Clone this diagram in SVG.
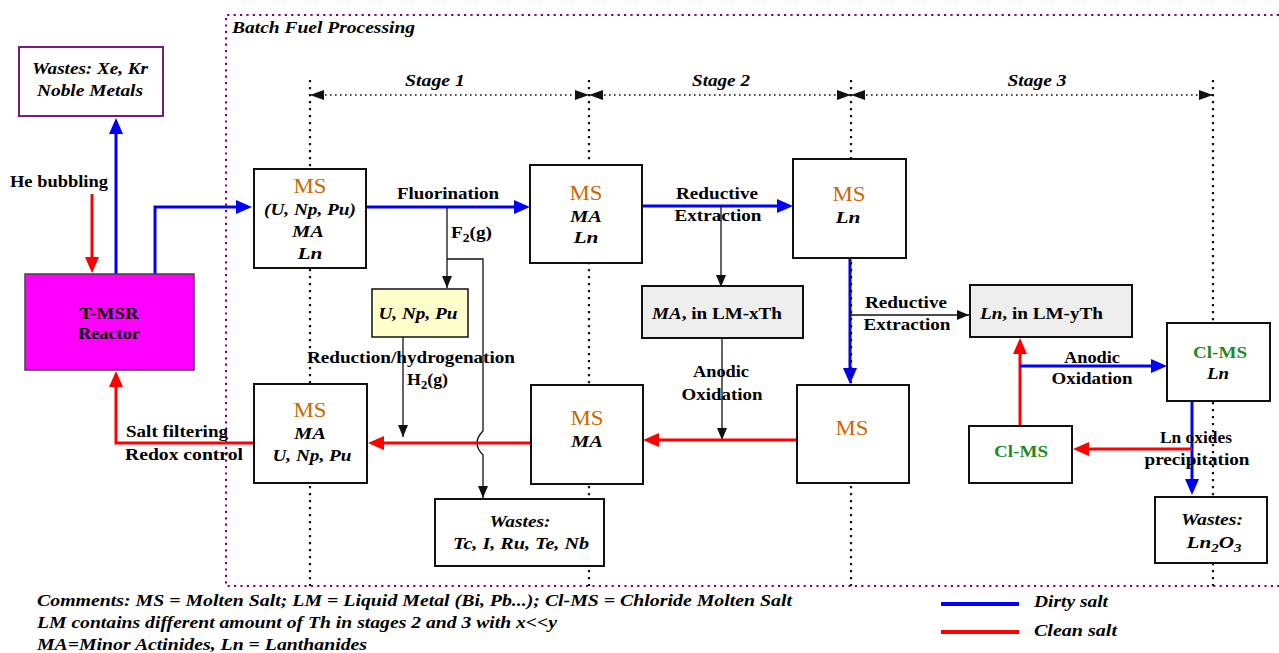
<svg xmlns="http://www.w3.org/2000/svg" width="1279" height="653" viewBox="0 0 1279 653" font-family="'Liberation Serif', 'DejaVu Serif', serif">
<style>
text{font-family:'Liberation Serif','DejaVu Serif',serif}
.t{font-weight:bold;font-size:17px;fill:#000}
.i{font-style:italic}
.m{text-anchor:middle}
.ms{font-weight:normal;fill:#cc6600;font-size:20px}
.cl{fill:#1f8a1f}
.box{fill:#fff;stroke:#111;stroke-width:2}
.gray{fill:#eeeeee;stroke:#111;stroke-width:2}
.blue{fill:none;stroke:#0000ff;stroke-width:3}
.red{fill:none;stroke:#ff0000;stroke-width:3}
.blk{fill:none;stroke:#111;stroke-width:1.3}
.stg{fill:none;stroke:#111;stroke-width:2.2;stroke-dasharray:2.2 4.8}
.sh{fill:none;stroke:#111;stroke-width:1.5;stroke-dasharray:1.6 3.4}
</style>
<defs>
<marker id="ab" markerUnits="userSpaceOnUse" markerWidth="16" markerHeight="14" viewBox="0 0 16 14" refX="12" refY="7" orient="auto"><path d="M0,0 L16,7 L0,14 z" fill="#0000ff"/></marker>
<marker id="ar" markerUnits="userSpaceOnUse" markerWidth="16" markerHeight="14" viewBox="0 0 16 14" refX="12" refY="7" orient="auto"><path d="M0,0 L16,7 L0,14 z" fill="#ff0000"/></marker>
<marker id="ak" markerUnits="userSpaceOnUse" markerWidth="12" markerHeight="10" viewBox="0 0 12 10" refX="12" refY="5" orient="auto"><path d="M0,0 L12,5 L0,10 z" fill="#111"/></marker>
<marker id="as" markerUnits="userSpaceOnUse" markerWidth="14" markerHeight="10" viewBox="0 0 14 10" refX="14" refY="5" orient="auto-start-reverse"><path d="M0,0 L14,5 L0,10 z" fill="#111"/></marker>
</defs>
<rect width="1279" height="653" fill="#fff"/>

<!-- frame -->
<path d="M1279,15 H226 V586 H1279" fill="none" stroke="#800080" stroke-width="2" stroke-dasharray="2.2 4.2"/>
<text class="t i" x="232" y="33" textLength="183" lengthAdjust="spacingAndGlyphs">Batch Fuel Processing</text>

<!-- stage markers -->
<g id="stages">
<line class="stg" x1="310" y1="80" x2="310" y2="586"/>
<line class="stg" x1="589" y1="80" x2="589" y2="586"/>
<line class="stg" x1="851" y1="80" x2="851" y2="586"/>
<line class="stg" x1="1213" y1="80" x2="1213" y2="586"/>
<line class="sh" x1="310" y1="95" x2="589" y2="95" marker-start="url(#as)" marker-end="url(#as)"/>
<line class="sh" x1="589" y1="95" x2="851" y2="95" marker-start="url(#as)" marker-end="url(#as)"/>
<line class="sh" x1="851" y1="95" x2="1213" y2="95" marker-start="url(#as)" marker-end="url(#as)"/>
<text class="t i m" x="435" y="86" textLength="60" lengthAdjust="spacingAndGlyphs">Stage 1</text>
<text class="t i m" x="721" y="86" textLength="58" lengthAdjust="spacingAndGlyphs">Stage 2</text>
<text class="t i m" x="1037" y="86" textLength="59" lengthAdjust="spacingAndGlyphs">Stage 3</text>
</g>

<!-- connectors -->
<g id="connectors">
<path class="red" d="M92,194 V269" marker-end="url(#ar)"/>
<path class="blue" d="M116,274 V122" marker-end="url(#ab)"/>
<path class="blue" d="M155,274 V207 H248" marker-end="url(#ab)"/>
<path class="blue" d="M366,207 H526" marker-end="url(#ab)"/>
<path class="blk" d="M447,207 V288" marker-end="url(#ak)"/>
<path class="blk" d="M447,259 H483 V431 Q471,443 483,455 V498" marker-end="url(#ak)"/>
<path class="blk" d="M403,337 V437" marker-end="url(#ak)"/>
<path class="blue" d="M642,206 H789" marker-end="url(#ab)"/>
<path class="blk" d="M721,206 V287" marker-end="url(#ak)"/>
<path class="blk" d="M722,338 V440" marker-end="url(#ak)"/>
<path class="blue" d="M850,258 V380" marker-end="url(#ab)"/>
<path class="stg" d="M851,262 V378"/>
<path class="blk" d="M850,315 H969" marker-end="url(#ak)"/>
<path class="red" d="M797,440 H647" marker-end="url(#ar)"/>
<path class="red" d="M531,443 H372" marker-end="url(#ar)"/>
<path class="red" d="M254,443 H116 V375" marker-end="url(#ar)"/>
<path class="red" d="M1020,426 V342" marker-end="url(#ar)"/>
<path class="blue" d="M1020,366 H1163" marker-end="url(#ab)"/>
<path class="blue" d="M1192,401 V491" marker-end="url(#ab)"/>
<path class="red" d="M1192,449 H1077" marker-end="url(#ar)"/>
</g>

<!-- labels -->
<g id="labels">
<text class="t" x="10" y="187" textLength="98" lengthAdjust="spacingAndGlyphs">He bubbling</text>
<text class="t m" x="448" y="199" textLength="102" lengthAdjust="spacingAndGlyphs">Fluorination</text>
<text class="t" x="451" y="238" textLength="41" lengthAdjust="spacingAndGlyphs">F<tspan font-size="12" dy="4">2</tspan><tspan dy="-4">(g)</tspan></text>
<text class="t m" x="411" y="363" textLength="208" lengthAdjust="spacingAndGlyphs">Reduction/hydrogenation</text>
<text class="t" x="407" y="385" textLength="41" lengthAdjust="spacingAndGlyphs">H<tspan font-size="12" dy="4">2</tspan><tspan dy="-4">(g)</tspan></text>
<text class="t m" x="717" y="199" textLength="82" lengthAdjust="spacingAndGlyphs">Reductive</text>
<text class="t m" x="718" y="221" textLength="87" lengthAdjust="spacingAndGlyphs">Extraction</text>
<text class="t m" x="721" y="377" textLength="56" lengthAdjust="spacingAndGlyphs">Anodic</text>
<text class="t m" x="722" y="400" textLength="81" lengthAdjust="spacingAndGlyphs">Oxidation</text>
<text class="t m" x="906" y="308" textLength="82" lengthAdjust="spacingAndGlyphs">Reductive</text>
<text class="t m" x="907" y="330" textLength="87" lengthAdjust="spacingAndGlyphs">Extraction</text>
<text class="t m" x="1092" y="363" textLength="56" lengthAdjust="spacingAndGlyphs">Anodic</text>
<text class="t m" x="1092" y="384" textLength="81" lengthAdjust="spacingAndGlyphs">Oxidation</text>
<text class="t m" x="1196" y="443" textLength="72" lengthAdjust="spacingAndGlyphs">Ln oxides</text>
<text class="t m" x="1197" y="465" textLength="105" lengthAdjust="spacingAndGlyphs">precipitation</text>
<text class="t" x="126" y="437" textLength="102" lengthAdjust="spacingAndGlyphs">Salt filtering</text>
<text class="t" x="125" y="460" textLength="118" lengthAdjust="spacingAndGlyphs" font-weight="normal">Redox control</text>
</g>

<!-- nodes -->
<g id="wastes-gas">
<rect x="19" y="47" width="144" height="69" fill="#fff" stroke="#7a1a7a" stroke-width="2"/>
<text class="t i m" x="90" y="74" textLength="116" lengthAdjust="spacingAndGlyphs">Wastes: Xe, Kr</text>
<text class="t i m" x="90" y="96" textLength="106" lengthAdjust="spacingAndGlyphs">Noble Metals</text>
</g>
<g id="reactor">
<rect x="25" y="274" width="169" height="96" fill="#ff00ff" stroke="#444" stroke-width="1.5"/>
<text class="t m" x="109" y="319" textLength="59" lengthAdjust="spacingAndGlyphs">T-MSR</text>
<text class="t m" x="109" y="339" textLength="62" lengthAdjust="spacingAndGlyphs">Reactor</text>
</g>
<g id="ms-feed">
<rect class="box" x="254" y="169" width="112" height="99"/>
<text class="t ms m" x="310" y="193" textLength="33" lengthAdjust="spacingAndGlyphs">MS</text>
<text class="t i m" x="310" y="215" textLength="92" lengthAdjust="spacingAndGlyphs">(U, Np, Pu)</text>
<text class="t i m" x="308" y="237" textLength="32" lengthAdjust="spacingAndGlyphs">MA</text>
<text class="t i m" x="310" y="259" textLength="25" lengthAdjust="spacingAndGlyphs">Ln</text>
</g>
<g id="u-np-pu">
<rect x="372" y="289" width="96" height="48" fill="#ffffcc" stroke="#111" stroke-width="1.5"/>
<text class="t i m" x="418" y="319" textLength="79" lengthAdjust="spacingAndGlyphs">U, Np, Pu</text>
</g>
<g id="ms-ma-ln">
<rect class="box" x="530" y="165" width="112" height="98"/>
<text class="t ms m" x="586" y="200" textLength="33" lengthAdjust="spacingAndGlyphs">MS</text>
<text class="t i m" x="586" y="222" textLength="32" lengthAdjust="spacingAndGlyphs">MA</text>
<text class="t i m" x="586" y="243" textLength="25" lengthAdjust="spacingAndGlyphs">Ln</text>
</g>
<g id="ma-lm">
<rect class="gray" x="642" y="286" width="161" height="52"/>
<text class="t m" x="717" y="319" textLength="130" lengthAdjust="spacingAndGlyphs"><tspan font-style="italic">MA</tspan>, in LM-xTh</text>
</g>
<g id="ms-ln">
<rect class="box" x="793" y="159" width="113" height="99"/>
<text class="t ms m" x="849" y="201" textLength="33" lengthAdjust="spacingAndGlyphs">MS</text>
<text class="t i m" x="848" y="223" textLength="25" lengthAdjust="spacingAndGlyphs">Ln</text>
</g>
<g id="ln-lm">
<rect class="gray" x="970" y="285" width="162" height="52"/>
<text class="t" x="980" y="319" textLength="123" lengthAdjust="spacingAndGlyphs"><tspan font-style="italic">Ln</tspan>, in LM-yTh</text>
</g>
<g id="cl-ms-ln">
<rect class="box" x="1167" y="323" width="103" height="78"/>
<text class="t cl m" x="1220" y="358" textLength="54" lengthAdjust="spacingAndGlyphs">Cl-MS</text>
<text class="t i m" x="1218" y="379" textLength="22" lengthAdjust="spacingAndGlyphs">Ln</text>
</g>
<g id="ms-clean">
<rect class="box" x="797" y="385" width="112" height="98"/>
<text class="t ms m" x="852" y="435" textLength="33" lengthAdjust="spacingAndGlyphs">MS</text>
</g>
<g id="ms-ma">
<rect class="box" x="531" y="385" width="112" height="99"/>
<text class="t ms m" x="587" y="425" textLength="33" lengthAdjust="spacingAndGlyphs">MS</text>
<text class="t i m" x="587" y="447" textLength="32" lengthAdjust="spacingAndGlyphs">MA</text>
</g>
<g id="ms-out">
<rect class="box" x="254" y="384" width="113" height="99"/>
<text class="t ms m" x="310" y="417" textLength="33" lengthAdjust="spacingAndGlyphs">MS</text>
<text class="t i m" x="310" y="439" textLength="32" lengthAdjust="spacingAndGlyphs">MA</text>
<text class="t i m" x="312" y="461" textLength="79" lengthAdjust="spacingAndGlyphs">U, Np, Pu</text>
</g>
<g id="wastes-tc">
<rect class="box" x="435" y="499" width="169" height="67"/>
<text class="t i m" x="520" y="527" textLength="61" lengthAdjust="spacingAndGlyphs">Wastes:</text>
<text class="t i m" x="521" y="549" textLength="136" lengthAdjust="spacingAndGlyphs">Tc, I, Ru, Te, Nb</text>
</g>
<g id="cl-ms">
<rect class="box" x="969" y="426" width="103" height="57"/>
<text class="t cl m" x="1021" y="457" textLength="54" lengthAdjust="spacingAndGlyphs">Cl-MS</text>
</g>
<g id="wastes-ln">
<rect class="box" x="1155" y="497" width="112" height="66"/>
<text class="t i m" x="1212" y="525" textLength="62" lengthAdjust="spacingAndGlyphs">Wastes:</text>
<text class="t i m" x="1214" y="548" textLength="55" lengthAdjust="spacingAndGlyphs">Ln<tspan font-size="12" dy="4">2</tspan><tspan dy="-4">O</tspan><tspan font-size="12" dy="4">3</tspan></text>
</g>

<!-- comments and legend -->
<g id="comments">
<text class="t i" x="37" y="606" textLength="755" lengthAdjust="spacingAndGlyphs">Comments: MS = Molten Salt; LM = Liquid Metal (Bi, Pb...); Cl-MS = Chloride Molten Salt</text>
<text class="t i" x="37" y="628" textLength="520" lengthAdjust="spacingAndGlyphs">LM contains different amount of Th in stages 2 and 3 with x&lt;&lt;y</text>
<text class="t i" x="37" y="650" textLength="330" lengthAdjust="spacingAndGlyphs">MA=Minor Actinides, Ln = Lanthanides</text>
</g>
<g id="legend">
<line x1="941" y1="604" x2="1019" y2="604" stroke="#0000ff" stroke-width="4"/>
<line x1="941" y1="632" x2="1019" y2="632" stroke="#ff0000" stroke-width="4"/>
<text class="t i" x="1034" y="607" textLength="74" lengthAdjust="spacingAndGlyphs">Dirty salt</text>
<text class="t i" x="1034" y="636" textLength="83" lengthAdjust="spacingAndGlyphs">Clean salt</text>
</g>
</svg>
